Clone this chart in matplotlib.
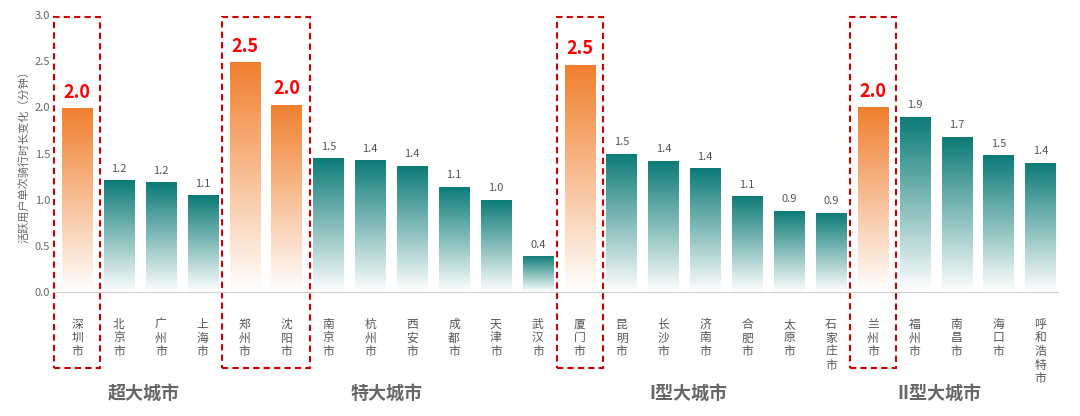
import matplotlib
matplotlib.use("Agg")
import matplotlib.pyplot as plt
import numpy as np
from matplotlib.colors import LinearSegmentedColormap
from matplotlib.patches import Rectangle
import matplotlib.transforms as mt

plt.rcParams['font.family'] = 'Noto Sans CJK SC'

cities = ["深圳市","北京市","广州市","上海市","郑州市","沈阳市","南京市","杭州市","西安市","成都市","天津市","武汉市",
          "厦门市","昆明市","长沙市","济南市","合肥市","太原市","石家庄市","兰州市","福州市","南昌市","海口市","呼和浩特市"]
values = [1.99,1.21,1.19,1.05,2.49,2.03,1.45,1.43,1.37,1.14,1.0,0.39,2.46,1.5,1.42,1.34,1.04,0.88,0.86,2.0,1.9,1.68,1.48,1.4]
labels = ["2.0","1.2","1.2","1.1","2.5","2.0","1.5","1.4","1.4","1.1","1.0","0.4","2.5","1.5","1.4","1.4","1.1","0.9","0.9","2.0","1.9","1.7","1.5","1.4"]
highlight = [0,4,5,12,19]
boxes = [(0,0),(4,5),(12,12),(19,19)]
groups = ["超大城市","特大城市","I型大城市","II型大城市"]
group_centers = [1.6,7.4,14.6,20.6]

fig = plt.figure(figsize=(10.8,4.16), dpi=100)
ax = fig.add_axes([0.051,0.298,0.929,0.666])
ax.set_xlim(-0.525,23.43)
ax.set_ylim(0,3.0)
ax.set_yticks(np.arange(0,3.01,0.5))
ax.set_yticklabels([f"{v:.1f}" for v in np.arange(0,3.01,0.5)], fontsize=8, color="#666666")
for s in ["top","right","left"]:
    ax.spines[s].set_visible(False)
ax.spines["bottom"].set_color("#d0d0d0")
ax.tick_params(axis='y', length=0)
ax.set_xticks([])
ax.set_ylabel("活跃用户单次骑行时长变化（分钟）", fontsize=8, color="#666666")

teal = LinearSegmentedColormap.from_list("t", ["#ffffff", "#0b7a76"])
orng = LinearSegmentedColormap.from_list("o", ["#ffffff", "#f07f2e"])
grad = np.linspace(0,1,256).reshape(-1,1)
w = 0.72
for i,(v,l) in enumerate(zip(values,labels)):
    hi = i in highlight
    im = ax.imshow(grad, cmap=orng if hi else teal, aspect='auto', origin='lower',
                   extent=[i-w/2,i+w/2,0,v], zorder=2)
    r = Rectangle((i-w/2,0), w, v, transform=ax.transData, facecolor='none', edgecolor='none')
    ax.add_patch(r)
    im.set_clip_path(r)
    if hi:
        ax.text(i, v+0.07, l, ha='center', va='bottom', fontsize=13, fontweight='bold', color='#ff0000')
    else:
        ax.text(i, v+0.07, l, ha='center', va='bottom', fontsize=8, color='#555555')

bt = mt.blended_transform_factory(ax.transData, fig.transFigure)
for i,c in enumerate(cities):
    ax.text(i, 1-318/416, "\n".join(c), transform=bt, ha='center', va='top', fontsize=8.5,
            color='#555555', linespacing=1.05)
for a,b in boxes:
    ax.add_patch(Rectangle((a-0.55, 1-368/416), b-a+1.1, (368-17)/416, transform=bt, fill=False,
                           edgecolor='#cc0000', linestyle=(0,(3,2)), linewidth=1.5, clip_on=False))
for g,x in zip(groups,group_centers):
    ax.text(x, 1-393/416, g, transform=bt, ha='center', va='center', fontsize=13,
            fontweight='bold', color='#666666')

fig.savefig("out.png", dpi=100)
